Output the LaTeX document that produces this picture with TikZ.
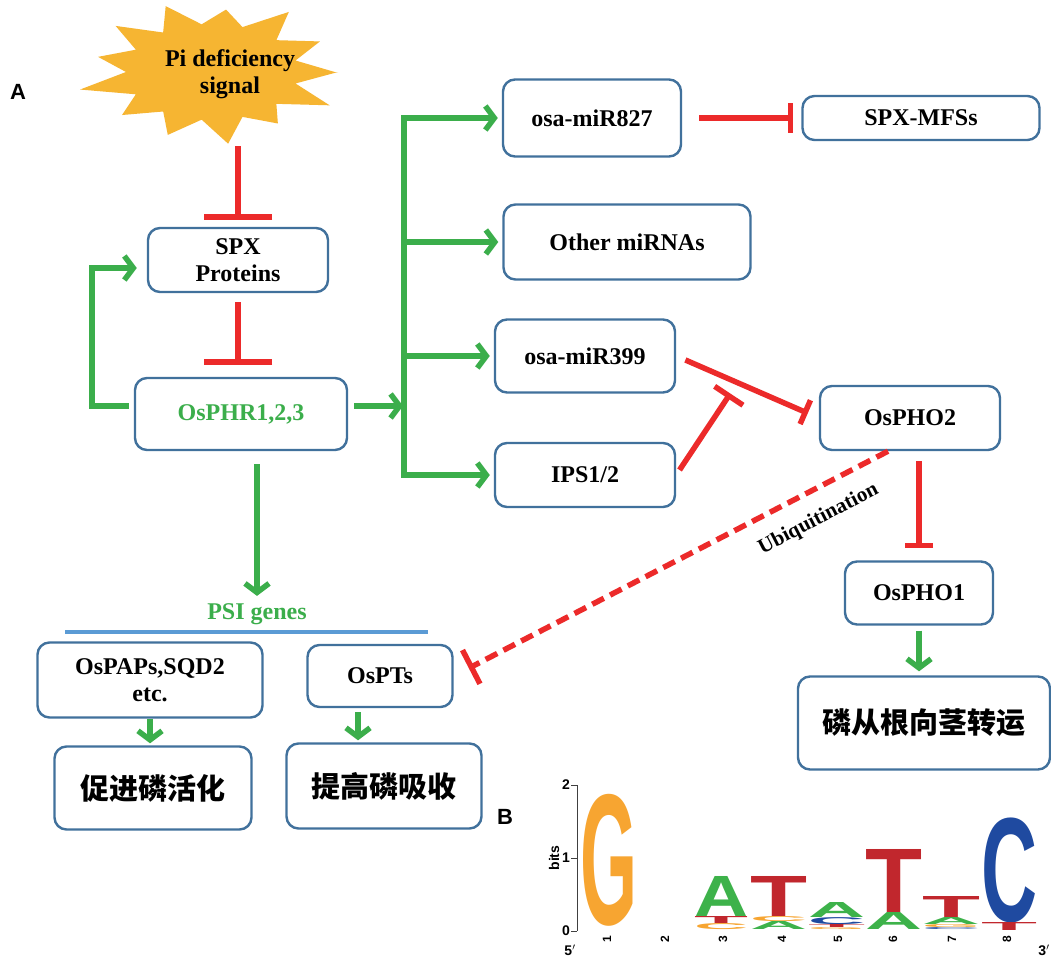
\documentclass[tikz,border=0pt]{standalone}
\usepackage{fontspec}
\setmainfont{Liberation Serif}
\newfontfamily\cjkfont{Noto Sans CJK SC}
\newfontfamily\logofont{Liberation Sans}
\usepackage{graphicx}
\usepackage{xcolor}
\definecolor{boxBlue}{HTML}{41719C}
\definecolor{actGreen}{HTML}{3BAE4B}
\definecolor{inhRed}{HTML}{EC2A2A}
\definecolor{sunOrange}{HTML}{F6B532}
\definecolor{ruleBlue}{HTML}{5B9BD5}
\definecolor{logoOrange}{HTML}{F7A531}
\definecolor{logoGreen}{HTML}{3DB24A}
\definecolor{logoRed}{HTML}{C1272D}
\definecolor{logoBlue}{HTML}{1F4AA0}
\usepackage{tikz}
\usetikzlibrary{
    arrows.meta,
    positioning,
    calc
}
\tikzset{
    % Base text style for all labels
    gene base/.style={
        font=\fontsize{24}{27}\selectfont\bfseries,
        align=center,
        text=black,
    },
    % Rounded gene boxes - blue-gray outline
    gene/.style={
        gene base,
        rectangle,
        rounded corners=12pt,
        draw=boxBlue,
        line width=2.4pt,
        fill=white,
        inner sep=2pt,
    },
    % Box size helper
    boxsize/.style 2 args={
        minimum width=#1,
        minimum height=#2,
    },
    % Chinese outcome boxes
    outcome/.style={
        gene,
        font=\cjkfont\fontsize{29}{33}\selectfont\bfseries,
    },
    % Promoting arrow - green open chevron
    promote/.style={
        -{Straight Barb[length=9pt, width=24pt]},
        draw=actGreen,
        line width=5.5pt,
    },
    % Green trunk without tip
    promote line/.style={
        draw=actGreen,
        line width=5.5pt,
        line cap=rect,
    },
    % Inhibiting connector - red T bar
    inhibit/.style={
        -{Bar[width=#1]},
        draw=inhRed,
        line width=5.5pt,
    },
    inhibit/.default=30pt,
    % Panel letters A and B
    panel/.style={
        font=\logofont\fontsize{22}{22}\selectfont\bfseries,
    },
    % Sequence logo axis labels
    logo label/.style={
        font=\logofont\fontsize{14}{14}\selectfont\bfseries,
        inner sep=1pt,
    },
}
% One stretched letter of the sequence logo
\newcommand{\logoletter}[6]{%
  \node[inner sep=0pt, anchor=south west, text=#5] at (#1,#4)
    {\resizebox*{\dimexpr#2pt-#1pt\relax}{\dimexpr#4pt-#3pt\relax}{\logofont\bfseries #6}};}

\begin{document}
\begin{tikzpicture}[x=1pt, y=-1pt]
    \fill[white] (0,0) rectangle (1051,958);
    \useasboundingbox (0,0) rectangle (1051,958);

    % Pi deficiency starburst
    \coordinate (burst) at (212,72);
    \fill[sunOrange] ($(burst)+(0:126 and 68)$)
        \foreach \k in {1,...,13} {
            -- ($(burst)+({(2*\k-1)*180/13}:86 and 48)$)
            -- ($(burst)+({2*\k*180/13}:{126*(1+0.08*sin(\k*137))} and {68*(1+0.08*sin(\k*137))})$)
        } -- cycle;
    \node[gene base] (signal) at (230,74) {Pi deficiency\\signal};
    \coordinate (sigFoot) at (238,146);

    \node[panel] (panelA) at (18,92) {A};

    % Left column
    \node[gene, boxsize={180}{64}] (spx) at (238,260) {SPX\\Proteins};
    \node[gene, boxsize={212}{72}, text=actGreen] (phr) at (241,414) {OsPHR1,2,3};

    % miRNA column
    \node[gene, boxsize={178}{77}] (mir827) at (592,118) {osa-miR827};
    \node[gene, boxsize={237}{44}] (mfs) at (921,118) {SPX-MFSs};
    \node[gene, boxsize={247}{75}] (othermir) at (627,242) {Other miRNAs};
    \node[gene, boxsize={180}{73}] (mir399) at (585,356) {osa-miR399};
    \node[gene, boxsize={180}{64}] (ips) at (585,475) {IPS1/2};

    % Right column
    \node[gene, boxsize={180}{64}] (pho2) at (910,418) {OsPHO2};
    \node[gene, boxsize={148}{63}] (pho1) at (919,593) {OsPHO1};
    \node[outcome, boxsize={252}{93}] (transport) at (924,723) {磷从根向茎转运};

    % PSI genes
    \node[gene base, text=actGreen] (psi) at (257,614) {PSI genes};
    \coordinate (ruleL) at (65,632);
    \coordinate (ruleR) at (428,632);
    \draw[ruleBlue, line width=3.5pt] (ruleL) -- (ruleR);
    \node[gene, boxsize={225}{75}] (paps) at (150,680) {OsPAPs,SQD2\\etc.};
    \node[gene, boxsize={145}{62}] (pts) at (380,676) {OsPTs};
    \node[outcome, boxsize={197}{83}] (activate) at (153,788) {促进磷活化};
    \node[outcome, boxsize={195}{85}] (uptake) at (384,786) {提高磷吸收};

    % Inhibitions
    \draw[inhibit=68pt, shorten >=7pt] (sigFoot) -- (spx.north);
    \draw[inhibit=68pt, shorten <=9pt, shorten >=12pt] (spx.south) -- (spx.south |- phr.north);
    \draw[inhibit=30pt, shorten <=17pt, shorten >=8pt] (mir827) -- (mfs);
    \draw[inhibit=26pt, shorten <=10pt, shorten >=12pt] (mir399.east) -- (pho2.west) coordinate[pos=0.43] (blockPt);
    \draw[inhibit=34pt, shorten <=6pt, shorten >=13pt] (ips.east) -- (blockPt);
    \draw[inhibit=28pt, shorten <=10pt, shorten >=12pt] (pho2.south -| pho1.north) -- (pho1.north);
    \draw[inhibit=38pt, dash pattern=on 13pt off 7pt, shorten >=17pt] ([xshift=-22pt]pho2.south) -- (pts.east)
        node[pos=0.19, sloped, below=13pt, gene base, font=\fontsize{21}{24}\selectfont\bfseries] (ubiq) {Ubiquitination};

    % Promotions
    \coordinate (hub) at (404,406);
    \draw[promote, shorten <=5pt, shorten >=10pt] ([yshift=8pt]phr.west) -- ++(-42,0) |- ([yshift=-8pt]spx.west);
    \draw[promote, shorten <=6pt, shorten >=1pt] ([yshift=8pt]phr.east) -- (hub);
    \draw[promote line] (mir827.west -| hub) -- (ips.west -| hub);
    \foreach \n in {mir827, othermir, mir399, ips}
        \draw[promote, shorten >=4pt] (\n.west -| hub) -- (\n.west);
    \draw[promote, shorten <=13pt, shorten >=4pt] (psi.north |- phr.south) -- (psi.north);
    \draw[promote, shorten >=2pt] (paps.south) -- (paps.south |- activate.north);
    \draw[promote, shorten <=4pt, shorten >=2pt] ([xshift=-22pt]pts.south) -- ([xshift=-22pt]pts.south |- uptake.north);
    \draw[promote, shorten <=5pt, shorten >=4pt] (pho1.south) -- (pho1.south |- transport.north);

    % Sequence logo (panel B)
    \node[panel] (panelB) at (505,817) {B};
    \draw[black!75, line width=0.8pt] (577,785) -- (577,931);
    \foreach \v/\yy in {0/931, 1/858, 2/785} {
        \draw[black!75, line width=0.8pt] (571,\yy) -- (577,\yy);
        \node[logo label, anchor=east] at (571,\yy) {\v};
    }
    \node[logo label, rotate=90] (bits) at (554,858) {bits};
    \foreach \p [count=\i] in {607, 665, 723, 782, 838, 893, 952, 1007} {
        \node[logo label, rotate=90, font=\logofont\fontsize{12}{12}\selectfont\bfseries] at (\p,939) {\i};
    }
    \node[logo label] (fivePrime) at (570,950) {5$'$};
    \node[logo label] (threePrime) at (1044,950) {3$'$};
    \foreach \xl/\xr/\yt/\yb/\col/\ch in {
        580/637/795/927/logoOrange/G,
        694/748/877/917/logoGreen/A, 694/748/917/924/logoRed/T, 694/748/924/930/logoOrange/C,
        750/807/877/917/logoRed/T, 750/807/917/922/logoOrange/C, 750/807/922/930/logoGreen/A,
        808/865/903/918/logoGreen/A, 808/865/918/925/logoBlue/C, 808/865/925/928/logoRed/T, 808/865/928/930/logoOrange/G,
        865/922/850/913/logoRed/T, 865/922/913/930/logoGreen/A,
        922/980/897/918/logoRed/T, 922/980/918/925/logoGreen/A, 922/980/925/928/logoOrange/G, 922/980/928/930/logoBlue/C,
        981/1037/818/923/logoBlue/C, 981/1037/923/931/logoRed/T} {
        \logoletter{\xl}{\xr}{\yt}{\yb}{\col}{\ch}
    }
\end{tikzpicture}
\end{document}
